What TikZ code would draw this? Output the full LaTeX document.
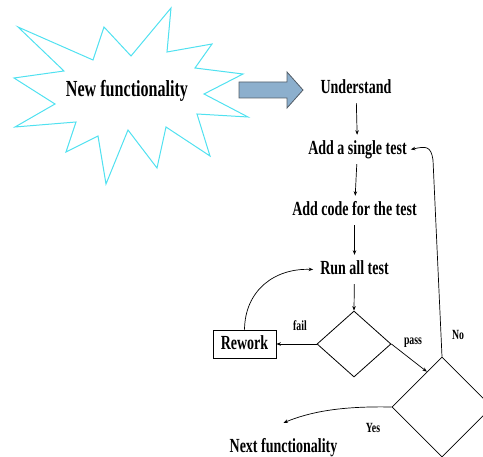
\documentclass[tikz,border=0pt]{standalone}
\usepackage{fontspec}
\setmainfont{Liberation Serif}
\usepackage{graphicx}
\usetikzlibrary{shapes.geometric}
\usetikzlibrary{arrows.meta}
\usetikzlibrary{calc}
\definecolor{burst}{RGB}{80,225,240}
\definecolor{bigarrow}{RGB}{140,175,205}
\definecolor{bigarrowline}{RGB}{85,95,105}
\newcommand{\sq}[1]{\scalebox{0.7}[1]{#1}}
\newcommand{\flownode}[4]{\node[stepnode] (#1) at ( #2 , #3 ) {\sq{#4}};}
\newcommand{\flowlbl}[4]{\node[smalllbl] (#1) at ( #2 , #3 ) {\sq{#4}};}
\tikzset{
  stepnode/.style={font=\fontsize{20}{20}\selectfont\bfseries, text height=14pt, text depth=3pt, inner xsep=7pt, inner ysep=6pt},
  smalllbl/.style={font=\fontsize{14}{14}\selectfont\bfseries, inner sep=0pt, anchor=base},
  decision/.style={diamond, draw, line width=0.8pt, inner sep=0pt},
  flow/.style={-{Stealth[length=4.5pt,width=3.5pt]}, line width=0.7pt}
}

\begin{document}
\begin{tikzpicture}[x=1pt,y=-1pt]
        \useasboundingbox (0,0) rectangle (483,457);
        \clip (0,0) rectangle (483,457);

        %burst and big arrow
        \draw[burst, line width=1pt] (18,27) -- (93,60) -- (104,27) -- (131,56) -- (171,8) -- (167,52)
          -- (212,44) -- (195,68) -- (243,74) -- (204,94) -- (248,117) -- (197,114) -- (210,156)
          -- (166,127) -- (157,168) -- (128,130) -- (106,184) -- (98,136) -- (66,152) -- (76,122)
          -- (15,127) -- (55,104) -- (14,78) -- (64,71) -- cycle;
        \node[font=\fontsize{23}{23}\selectfont\bfseries, text height=16pt, text depth=5pt] (newf) at (127,91) {\sq{New functionality}};
        \draw[fill=bigarrow, draw=bigarrowline, line width=0.8pt] (239,82) -- (287,82) -- (287,72) -- (303,90)
          -- (287,108) -- (287,98) -- (239,98) -- cycle;

        %nodes
        \flownode{under}{356}{88.5}{Understand}
        \flownode{single}{357.5}{149.5}{Add a single test}
        \flownode{code}{354.5}{210.5}{Add code for the test}
        \flownode{run}{354.5}{269.5}{Run all test}
        \flownode{next}{283.5}{447.5}{Next functionality}
        \node[draw, line width=0.8pt, minimum width=63pt, minimum height=28pt, inner sep=0pt,
          font=\fontsize{20}{20}\selectfont\bfseries, text height=14pt, text depth=3pt] (rework) at (244.5,344) {\sq{Rework}};
        \node[decision, minimum width=74pt, minimum height=66pt] (check) at (354,344) {};
        \node[decision, minimum width=100pt, minimum height=100pt] (done) at (442,407) {};

        %labels
        \flowlbl{fail}{300}{331}{fail}
        \flowlbl{pass}{413}{345}{pass}
        \flowlbl{no}{458}{340}{No}
        \flowlbl{yes}{373}{433}{Yes}

        %edges
        \draw[flow] (under) -- (single);
        \draw[flow] (single) -- (code);
        \draw[flow] (code) -- (run);
        \draw[flow] (run) -- (check.north);
        \draw[flow] (check.west) -- (rework.east);
        \draw[flow] (rework.north) .. controls (245,290) and (275,268) .. (run.west);
        \draw[flow] (check.east) -- ($(done.north)!0.3!(done.west)$);
        \draw[flow] (done.north) -- (433,160) .. controls (431,146) and (426,146) .. ([xshift=-3pt]single.east);
        \draw[flow] (done.west) .. controls (340,406) and (310,412) .. ([yshift=10pt]next.north);

        \end{tikzpicture}
\end{document}
